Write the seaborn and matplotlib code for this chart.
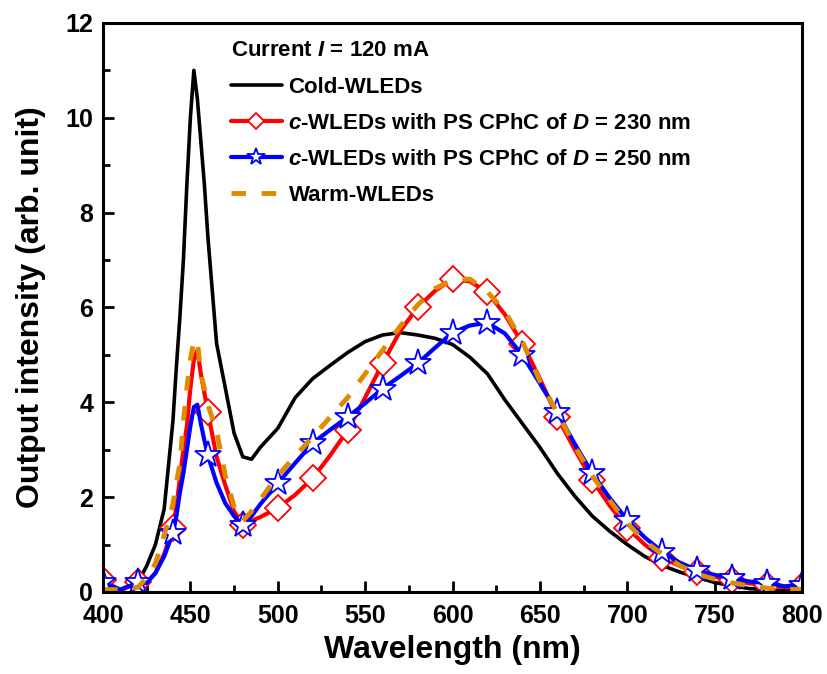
import matplotlib
matplotlib.use("Agg")
import matplotlib.pyplot as plt
import seaborn as sns

# wavelength grid (nm), denser around the blue peak
wl = [400, 410, 420, 425, 430, 435,
      440, 442, 444, 446, 448, 450, 452, 454, 456, 458, 460,
      465, 470, 475, 480, 485, 490,
      500, 510, 520, 530, 540, 550, 560, 570, 580, 590, 600,
      610, 620, 630, 640, 650, 660, 670, 680, 690, 700,
      710, 720, 730, 740, 750, 760, 770, 780, 790, 800]

cold = [0.05, 0.05, 0.2, 0.55, 1.0, 1.75,
        3.6, 4.75, 5.8, 7.0, 8.6, 10.0, 11.0, 10.4, 9.5, 8.6, 7.5,
        5.24, 4.3, 3.35, 2.85, 2.8, 3.05,
        3.45, 4.1, 4.5, 4.78, 5.05, 5.28, 5.42, 5.47, 5.42, 5.35, 5.22,
        4.95, 4.6, 4.05, 3.55, 3.05, 2.5, 2.02, 1.6, 1.28, 1.0,
        0.75, 0.56, 0.42, 0.31, 0.2, 0.13, 0.07, 0.05, 0.03, 0.02]

d230 = [0.25, 0.03, 0.21, 0.2, 0.4, 0.8,
        1.35, 1.8, 2.4, 3.0, 3.5, 4.3, 4.9, 5.1, 4.6, 4.2, 3.8,
        2.85, 2.25, 1.7, 1.42, 1.5, 1.58,
        1.77, 2.05, 2.4, 2.88, 3.41, 4.1, 4.82, 5.5, 6.0, 6.35, 6.6,
        6.55, 6.32, 5.85, 5.24, 4.5, 3.69, 3.0, 2.36, 1.82, 1.35,
        1.0, 0.72, 0.55, 0.42, 0.32, 0.25, 0.18, 0.15, 0.1, 0.12]

d250 = [0.2, 0.05, 0.2, 0.19, 0.4, 0.75,
        1.24, 1.6, 2.1, 2.5, 3.0, 3.5, 3.9, 3.95, 3.55, 3.2, 2.88,
        2.3, 1.87, 1.6, 1.41, 1.6, 1.85,
        2.29, 2.72, 3.14, 3.42, 3.69, 3.98, 4.29, 4.55, 4.82, 5.15, 5.47,
        5.62, 5.68, 5.45, 4.99, 4.4, 3.79, 3.12, 2.5, 1.98, 1.52,
        1.15, 0.85, 0.62, 0.46, 0.36, 0.29, 0.22, 0.19, 0.12, 0.15]

warm = [0.05, 0.05, 0.1, 0.3, 0.6, 1.2,
        1.85, 2.3, 2.7, 3.6, 4.3, 4.9, 5.3, 5.3, 4.6, 4.3, 3.95,
        3.4, 2.45, 1.8, 1.5, 1.7, 1.95,
        2.45, 2.87, 3.27, 3.69, 4.1, 4.6, 5.1, 5.6, 6.05, 6.4, 6.58,
        6.6, 6.33, 5.92, 5.28, 4.45, 3.78, 3.07, 2.45, 1.93, 1.45,
        1.07, 0.8, 0.56, 0.38, 0.27, 0.19, 0.13, 0.08, 0.06, 0.05]

labels = ["Cold-WLEDs",
          r"$c$-WLEDs with PS CPhC of $D$ = 230 nm",
          r"$c$-WLEDs with PS CPhC of $D$ = 250 nm",
          "Warm-WLEDs"]

sns.set_style("ticks")
plt.rcParams["font.family"] = ["Liberation Sans", "DejaVu Sans"]
plt.rcParams["font.weight"] = "bold"
plt.rcParams["axes.labelweight"] = "bold"
plt.rcParams["text.color"] = "black"
plt.rcParams["axes.labelcolor"] = "black"
plt.rcParams["xtick.color"] = "black"
plt.rcParams["ytick.color"] = "black"
plt.rcParams["mathtext.fontset"] = "custom"
plt.rcParams["mathtext.rm"] = "Liberation Sans:bold"
plt.rcParams["mathtext.it"] = "Liberation Sans:italic:bold"
plt.rcParams["mathtext.bf"] = "Liberation Sans:bold"

fig = plt.figure(figsize=(8.28, 6.74), dpi=100)
ax = fig.add_axes([0.1244, 0.1217, 0.8442, 0.8442])

# markers every 20 nm
mk = [i for i, w in enumerate(wl) if w % 20 == 0]

sns.lineplot(x=wl, y=cold, ax=ax, color="black", lw=2.6, label=labels[0])
sns.lineplot(x=wl, y=d230, ax=ax, color="#ff0000", lw=3, marker="D",
             markersize=13, markevery=mk, markerfacecolor="white",
             markeredgecolor="#ff0000", markeredgewidth=1.3, label=labels[1])
sns.lineplot(x=wl, y=d250, ax=ax, color="#0000ff", lw=3, marker="*",
             markersize=20, markevery=mk, markerfacecolor="white",
             markeredgecolor="#0000ff", markeredgewidth=1.3, label=labels[2])
sns.lineplot(x=wl, y=warm, ax=ax, color="#e08a00", lw=3.5,
             linestyle=(0, (3, 3.2)), label=labels[3])

ax.set_xlim(400, 800)
ax.set_ylim(0, 12)
ax.set_xticks(range(400, 801, 50))
ax.set_xticks(range(425, 800, 50), minor=True)
ax.set_yticks(range(0, 13, 2))
ax.set_yticks(range(1, 12, 2), minor=True)
ax.tick_params(which="both", direction="in", width=2, labelsize=18)
ax.tick_params(which="major", length=8)
ax.tick_params(which="minor", length=5)
ax.tick_params(axis="x", which="major", pad=9)
ax.tick_params(axis="y", which="major", pad=7)
for s in ax.spines.values():
    s.set_linewidth(2.2)
    s.set_color("black")

ax.set_xlabel("Wavelength (nm)", fontsize=23, labelpad=5)
ax.set_ylabel("Output intensity (arb. unit)", fontsize=23, labelpad=14)

leg = ax.legend(loc="upper left", bbox_to_anchor=(0.17, 0.985), frameon=False,
                fontsize=16, title=r"Current $I$ = 120 mA",
                title_fontproperties={"size": 16, "weight": "bold"},
                alignment="left", handlelength=2.3, handletextpad=0.3,
                labelspacing=0.68, borderaxespad=0, markerscale=0.65)

plt.savefig("out.png", dpi=100)
